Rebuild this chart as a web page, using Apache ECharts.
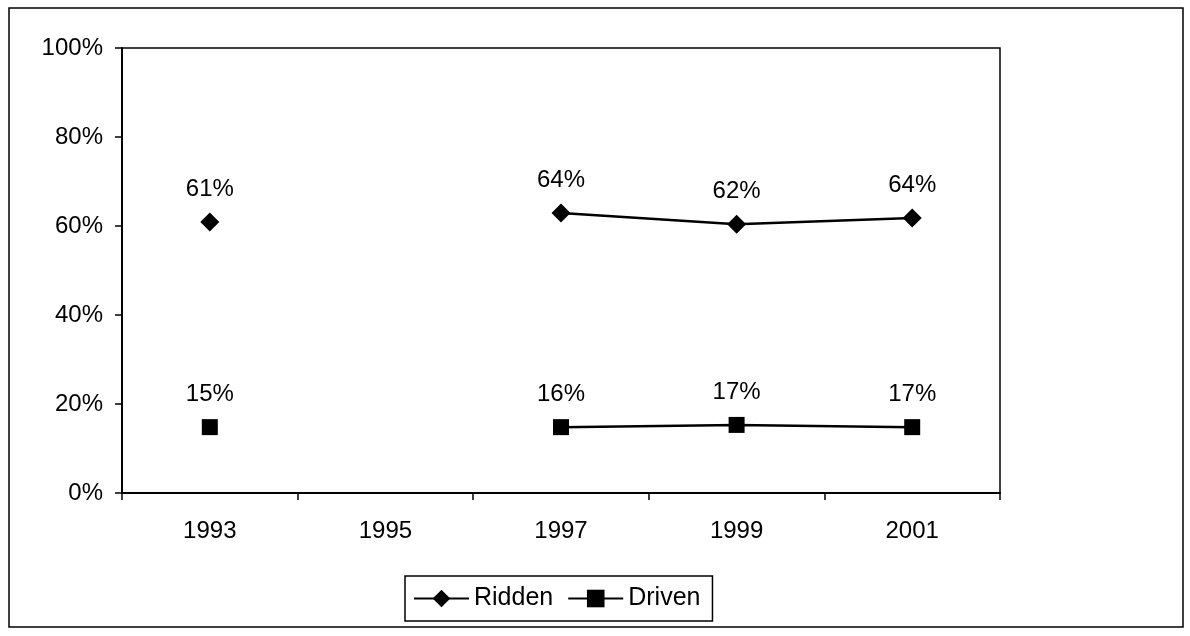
<!DOCTYPE html>
<html>
<head>
<meta charset="utf-8">
<script src="https://cdn.jsdelivr.net/npm/echarts@6/dist/echarts.min.js"></script>
<style>
  html, body { margin: 0; padding: 0; background: #fff; }
  #chart { width: 1190px; height: 636px; }
</style>
</head>
<body>
<div id="chart"></div>
<script>
  // survey years (1995 has no data)
  const years = ['1993', '1995', '1997', '1999', '2001']
  // point positions
  const riddenValues = [60.9, null, 62.9, 60.4, 61.8]
  const drivenValues = [14.8, null, 14.8, 15.3, 14.8]
  // printed data labels
  const riddenLabels = ['61%', '', '64%', '62%', '64%']
  const drivenLabels = ['15%', '', '16%', '17%', '17%']

  const font = '"Liberation Sans", Arial, sans-serif'

  const chart = echarts.init(document.getElementById('chart'))

  const makeSeries = (name, values, labels, symbol, size, dist) => ({
    name: name,
    type: 'line',
    data: values,
    symbol: symbol,
    symbolSize: size,
    showAllSymbol: true,
    connectNulls: false,
    lineStyle: { color: '#000', width: 2.5 },
    itemStyle: { color: '#000' },
    label: {
      show: true,
      position: 'top',
      distance: dist,
      color: '#000',
      fontFamily: font,
      fontSize: 24,
      formatter: (p) => labels[p.dataIndex]
    },
    emphasis: { disabled: true }
  })

  const option = {
    backgroundColor: '#fff',
    animation: false,
    graphic: [
      {
        type: 'rect',
        shape: { x: 9, y: 8, width: 1174, height: 619 },
        style: { fill: 'none', stroke: '#000', lineWidth: 1.5 },
        silent: true
      }
    ],
    grid: {
      left: 122,
      right: 190,
      top: 48,
      bottom: 143,
      show: true,
      borderColor: '#000',
      borderWidth: 1.5
    },
    legend: {
      data: ['Ridden', 'Driven'],
      left: 405,
      top: 576,
      padding: [10, 12, 10, 8],
      itemGap: 14,
      itemWidth: 55,
      itemHeight: 22,
      borderColor: '#000',
      borderWidth: 1.5,
      textStyle: { color: '#000', fontFamily: font, fontSize: 25 }
    },
    xAxis: {
      type: 'category',
      data: years,
      boundaryGap: true,
      axisLine: { lineStyle: { color: '#000', width: 2 } },
      axisTick: { show: true, inside: false, length: 7, interval: 0, lineStyle: { color: '#000', width: 1.5 } },
      axisLabel: { color: '#000', fontFamily: font, fontSize: 24, margin: 26 },
      splitLine: { show: false }
    },
    yAxis: {
      type: 'value',
      min: 0,
      max: 100,
      interval: 20,
      axisLine: { show: true, lineStyle: { color: '#000', width: 2 } },
      axisTick: { show: true, length: 7, lineStyle: { color: '#000', width: 1.5 } },
      axisLabel: { color: '#000', fontFamily: font, fontSize: 24, margin: 19, formatter: '{value}%' },
      splitLine: { show: false }
    },
    series: [
      makeSeries('Ridden', riddenValues, riddenLabels, 'diamond', 19, 11),
      makeSeries('Driven', drivenValues, drivenLabels, 'rect', 16, 13)
    ]
  }

  chart.setOption(option)
</script>
</body>
</html>
